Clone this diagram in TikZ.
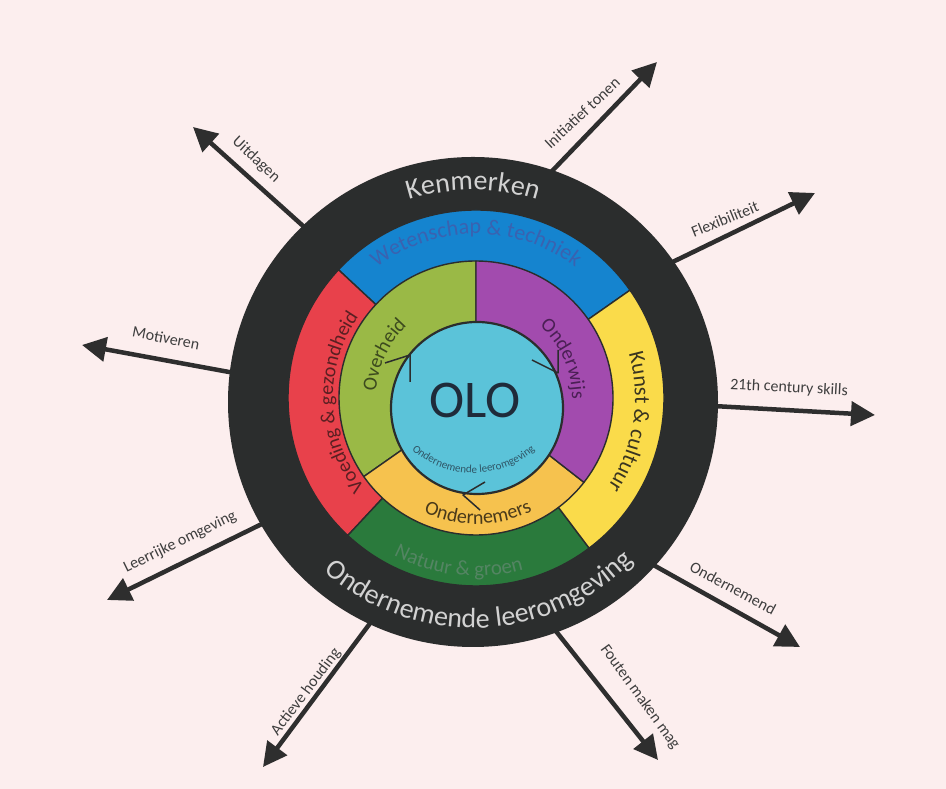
\documentclass[tikz,border=0pt]{standalone}
\usepackage{fontspec}
\setmainfont{Carlito}
\usetikzlibrary{arrows.meta,decorations.text,calc}
\pgfdeclarelayer{back}
\pgfdeclarelayer{mid}
\pgfsetlayers{back,mid,main}
\definecolor{bgpink}{HTML}{FCEEEE}
\definecolor{ringdark}{HTML}{2B2D2D}
\definecolor{ringtxt}{HTML}{D2D2D2}
\definecolor{cblue}{HTML}{1584CF}
\definecolor{cred}{HTML}{E8414B}
\definecolor{cyellow}{HTML}{FADB4A}
\definecolor{cdgreen}{HTML}{2A7A3C}
\definecolor{clime}{HTML}{9AB946}
\definecolor{cpurple}{HTML}{A24BAE}
\definecolor{corange}{HTML}{F6C24E}
\definecolor{colo}{HTML}{5BC3D9}
\definecolor{tblue}{HTML}{3A62B0}
\definecolor{tyellow}{HTML}{3A3520}
\definecolor{tred}{HTML}{5A1F22}
\definecolor{tgreen}{HTML}{548563}
\definecolor{tlime}{HTML}{3C4A1E}
\definecolor{tpurple}{HTML}{4B1F55}
\definecolor{torange}{HTML}{4A3A1A}
\definecolor{tolo}{HTML}{1F2B3A}
\definecolor{tsmall}{HTML}{2F5566}
\definecolor{arrowc}{HTML}{2E2E2E}
\definecolor{labc}{HTML}{3E3E3E}
\def\fRing{\fontsize{28}{30}\selectfont}
\def\fTwentyTwo{\fontsize{22}{24}\selectfont}
\def\fTwentyOne{\fontsize{21}{23}\selectfont}
\def\fTwenty{\fontsize{20}{22}\selectfont}
\def\fSmall{\fontsize{11}{13}\selectfont}
\begin{document}
\begin{tikzpicture}[x=1pt,y=1pt,
  arr/.style={line width=4.5pt, draw=arrowc, -{Triangle[length=24pt,width=24pt]}, shorten <=-8pt},
  lab/.style={font=\fontsize{16}{18}\selectfont, text=labc, inner sep=0pt},
  sector/.style={draw=ringdark, line width=1.4pt, line join=round}]
\begin{pgfonlayer}{back}
\fill[bgpink] (0,0) rectangle (946,789);
\end{pgfonlayer}
\useasboundingbox (0,0) rectangle (946,789);

\coordinate (C) at (473,387);
\coordinate (R) at (476,391);
\coordinate (I) at (477,381);

\node[circle, fill=ringdark, minimum size=490pt, inner sep=0pt, outer sep=0pt] (dark) at (C) {};

% outer coloured sectors
\filldraw[sector, fill=cblue]   (R) -- ++(35:188)  arc[start angle=35,  end angle=137, radius=188] -- cycle;
\filldraw[sector, fill=cred]    (R) -- ++(137:188) arc[start angle=137, end angle=227, radius=188] -- cycle;
\filldraw[sector, fill=cdgreen] (R) -- ++(227:188) arc[start angle=227, end angle=307, radius=188] -- cycle;
\filldraw[sector, fill=cyellow] (R) -- ++(307:188) arc[start angle=307, end angle=395, radius=188] -- cycle;

% middle sectors
\filldraw[sector, fill=clime]   (R) -- ++(90:137)  arc[start angle=90,  end angle=215, radius=137] -- cycle;
\filldraw[sector, fill=corange] (R) -- ++(215:137) arc[start angle=215, end angle=322, radius=137] -- cycle;
\filldraw[sector, fill=cpurple] (R) -- ++(322:137) arc[start angle=322, end angle=450, radius=137] -- cycle;

% inner circle
\node[circle, fill=colo, draw=ringdark, line width=2.2pt, minimum size=172pt, inner sep=0pt] (olo) at (I) {};
\node[font=\fontsize{53}{56}\selectfont, text=tolo, inner sep=0pt] (olotxt) at (475,389) {OLO};

% cycle arrowheads
\draw[ringdark, line width=1.5pt, line join=round] (385,426) -- (410,434) -- (410,407);
\draw[ringdark, line width=1.5pt, line join=round] (532,429) -- (558,416) -- (558,439);
\draw[ringdark, line width=1.5pt, line join=round] (485,307) -- (463,294) -- (480,279);

% texts along arcs
\path[decorate, decoration={text along path, text align=center, text color=ringtxt,
  text={|\fRing|Kenmerken}}]
  ($(C)+(125:212)$) arc[start angle=125, end angle=55, radius=212];
\path[decorate, decoration={text along path, text align=center, text color=ringtxt,
  text={|\fRing|Ondernemende leeromgeving}}]
  ($(C)+(202:226)$) arc[start angle=202, end angle=342, radius=226];

\path[decorate, decoration={text along path, text align=center, text color=tblue,
  text={|\fTwentyTwo|Wetenschap {\&} techniek}}]
  ($(R)+(150:164)$) arc[start angle=150, end angle=30, radius=164];
\path[decorate, decoration={text along path, text align=center, text color=tyellow,
  text={|\fTwentyTwo|Kunst {\&} cultuur}}]
  ($(R)+(51:159)$) arc[start angle=51, end angle=-69, radius=159];
\path[decorate, decoration={text along path, text align=center, text color=tred,
  text={|\fTwenty|Voeding {\&} gezondheid}}]
  ($(R)+(242:143)$) arc[start angle=242, end angle=122, radius=143];
\path[decorate, decoration={text along path, text align=center, text color=tgreen,
  text={|\fTwentyOne|Natuur {\&} groen}}]
  ($(R)+(204:178)$) arc[start angle=204, end angle=324, radius=178];

\path[decorate, decoration={text along path, text align=center, text color=tlime,
  text={|\fTwenty|Overheid}}]
  ($(R)+(215:100)$) arc[start angle=215, end angle=95, radius=100];
\path[decorate, decoration={text along path, text align=center, text color=tpurple,
  text={|\fTwenty|Onderwijs}}]
  ($(R)+(84:96)$) arc[start angle=84, end angle=-36, radius=96];
\path[decorate, decoration={text along path, text align=center, text color=torange,
  text={|\fTwenty|Ondernemers}}]
  ($(R)+(211:126)$) arc[start angle=211, end angle=331, radius=126];

\path[decorate, decoration={text along path, text align=center, text color=tsmall,
  text={|\fSmall|Ondernemende leeromgeving}}]
  (473.5,410) ++(190:94) arc[start angle=190, end angle=350, radius=94];

% arrow tips
\coordinate (t1) at (193,662);
\coordinate (t2) at (657,727);
\coordinate (t3) at (815,596);
\coordinate (t4) at (82,444);
\coordinate (t5) at (875,374);
\coordinate (t6) at (107,189);
\coordinate (t7) at (800,142);
\coordinate (t8) at (263,22);
\coordinate (t9) at (658,29);

\begin{pgfonlayer}{mid}
\draw[arr] (dark.134) -- (t1);
\draw[arr] (dark.71.5) -- (t2);
\draw[arr] (dark.35.8) -- (t3);
\draw[arr] (dark.173) -- (t4);
\draw[arr] (dark.-1.7) -- (t5);
\draw[arr] (dark.210.6) -- (t6);
\draw[arr] (dark.-42.3) -- (t7);
\draw[arr] (dark.245.8) -- (t8);
\draw[arr] (dark.-70) -- (t9);
\end{pgfonlayer}

% arrow labels
\node[lab, rotate=-43] (l1) at (256,629) {Uitdagen};
\node[lab, rotate=43]  (l2) at (582,676) {Initiatief tonen};
\node[lab, rotate=22]  (l3) at (725,570) {Flexibiliteit};
\node[lab, rotate=-11] (l4) at (166,451) {Motiveren};
\node[lab, rotate=-3]  (l5) at (789,401) {21th century skills};
\node[lab, rotate=26]  (l6) at (180,247) {Leerrijke omgeving};
\node[lab, rotate=-28] (l7) at (733,201) {Ondernemend};
\node[lab, rotate=53]  (l8) at (306,97)  {Actieve houding};
\node[lab, rotate=-54] (l9) at (640,92)  {Fouten maken mag};
\end{tikzpicture}
\end{document}
